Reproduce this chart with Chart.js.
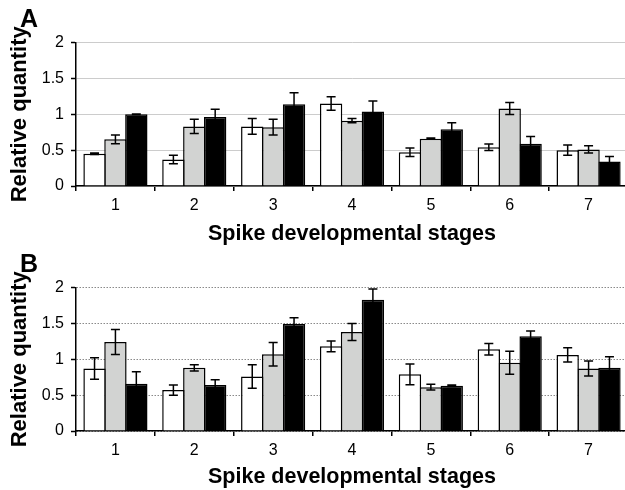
<!DOCTYPE html>
<html>
<head>
<meta charset="utf-8">
<script src="https://cdn.jsdelivr.net/npm/chart.js@4.4.1/dist/chart.umd.min.js"></script>
<style>
  html, body { margin: 0; padding: 0; background: #fff; overflow: hidden; }
  .panel { position: absolute; left: 0; width: 628px; height: 245px; }
  .letter { position: absolute; left: 20px; font: bold 25px "Liberation Sans", Arial, sans-serif; line-height: 1; color: #000; }
</style>
</head>
<body>
<div class="panel" style="top:0"><canvas id="chartA" width="628" height="245"></canvas></div>
<div class="panel" style="top:245px"><canvas id="chartB" width="628" height="245"></canvas></div>
<div class="letter" style="top:6px">A</div>
<div class="letter" style="top:251px">B</div>
<script>
// Entwicklungsstadien (x-Achse)
const stages = ['1', '2', '3', '4', '5', '6', '7'];
const yTickLabels = ['0', '0.5', '1', '1.5', '2'];

// Panel A
const aWhite = [0.45, 0.37, 0.83, 1.15, 0.47, 0.54, 0.50];
const aWhiteErr = [0.01, 0.06, 0.11, 0.095, 0.06, 0.045, 0.07];
const aGray = [0.65, 0.83, 0.82, 0.91, 0.66, 1.08, 0.51];
const aGrayErr = [0.06, 0.10, 0.11, 0.03, 0.01, 0.085, 0.05];
const aBlack = [1.0, 0.96, 1.14, 1.04, 0.79, 0.59, 0.34];
const aBlackErr = [0.005, 0.11, 0.16, 0.145, 0.09, 0.10, 0.07];

// Panel B
const bWhite = [0.87, 0.57, 0.76, 1.18, 0.79, 1.14, 1.06];
const bWhiteErr = [0.15, 0.07, 0.165, 0.075, 0.145, 0.08, 0.10];
const bGray = [1.24, 0.88, 1.07, 1.38, 0.61, 0.95, 0.87];
const bGrayErr = [0.175, 0.045, 0.165, 0.12, 0.04, 0.16, 0.105];
const bBlack = [0.66, 0.64, 1.49, 1.83, 0.63, 1.32, 0.88];
const bBlackErr = [0.165, 0.075, 0.09, 0.15, 0.01, 0.075, 0.155];

const FONT = '"Liberation Sans", Arial, sans-serif';

// Fehlerbalken nach den Balken zeichnen
const errorBars = {
  id: 'errorBars',
  afterDatasetsDraw(chart) {
    const ctx = chart.ctx;
    const yScale = chart.scales.y;
    ctx.save();
    ctx.strokeStyle = '#000';
    ctx.lineWidth = 1.5;
    chart.data.datasets.forEach((ds, i) => {
      const meta = chart.getDatasetMeta(i);
      meta.data.forEach((bar, j) => {
        const v = ds.data[j];
        const e = ds.errors[j];
        const yHi = yScale.getPixelForValue(v + e);
        const yLo = yScale.getPixelForValue(v - e);
        const x = bar.x;
        ctx.beginPath();
        ctx.moveTo(x, yHi); ctx.lineTo(x, yLo);
        ctx.moveTo(x - 4.5, yHi); ctx.lineTo(x + 4.5, yHi);
        ctx.moveTo(x - 4.5, yLo); ctx.lineTo(x + 4.5, yLo);
        ctx.stroke();
      });
    });
    ctx.restore();
  }
};

function makePanel(id, white, whiteErr, gray, grayErr, black, blackErr, dotted, titlePad) {
  // Balken überlappen leicht, damit sich benachbarte Balken eine Kante teilen
  const ds = (data, errors, color) => ({
    data: data,
    errors: errors,
    backgroundColor: color,
    borderColor: '#000',
    borderWidth: 1.5,
    barPercentage: 1.07,
    categoryPercentage: 0.795
  });
  return new Chart(document.getElementById(id), {
    type: 'bar',
    data: {
      labels: stages,
      datasets: [
        ds(white, whiteErr, '#ffffff'),
        ds(gray, grayErr, '#d2d3d2'),
        ds(black, blackErr, '#000000')
      ]
    },
    options: {
      responsive: false,
      animation: false,
      layout: { padding: { top: 42.5, right: 0, bottom: 0, left: 0 } },
      plugins: { legend: { display: false }, tooltip: { enabled: false } },
      scales: {
        x: {
          grid: { drawOnChartArea: false, offset: true, tickLength: 5, color: '#000', lineWidth: 1.5 },
          border: { color: '#000', width: 1.5 },
          ticks: { color: '#000', font: { family: FONT, size: 16 }, padding: 5 },
          title: {
            display: true,
            text: 'Spike developmental stages',
            color: '#000',
            font: { family: FONT, size: 21.5, weight: 'bold', lineHeight: 1 },
            padding: { top: 0, bottom: titlePad }
          },
          afterFit(scale) { scale.height = 59; }
        },
        y: {
          min: 0,
          max: 2,
          ticks: {
            stepSize: 0.5,
            color: '#000',
            font: { family: FONT, size: 16 },
            padding: 7,
            callback: (v, i) => yTickLabels[i]
          },
          grid: {
            color: dotted ? '#8a8a8a' : '#cccccc',
            lineWidth: 1,
            tickColor: '#000',
            tickLength: 5,
            tickWidth: 1.5
          },
          border: { color: '#000', width: 1.5, dash: dotted ? [1.5, 1.5] : [] },
          title: {
            display: true,
            text: 'Relative quantity',
            color: '#000',
            font: { family: FONT, size: 22, weight: 'bold', lineHeight: 1 },
            padding: { top: 9, bottom: 0 }
          },
          afterFit(scale) { scale.width = 76; }
        }
      }
    },
    plugins: [errorBars]
  });
}

makePanel('chartA', aWhite, aWhiteErr, aGray, aGrayErr, aBlack, aBlackErr, false, 0);
makePanel('chartB', bWhite, bWhiteErr, bGray, bGrayErr, bBlack, bBlackErr, true, 2.5);
</script>
</body>
</html>
